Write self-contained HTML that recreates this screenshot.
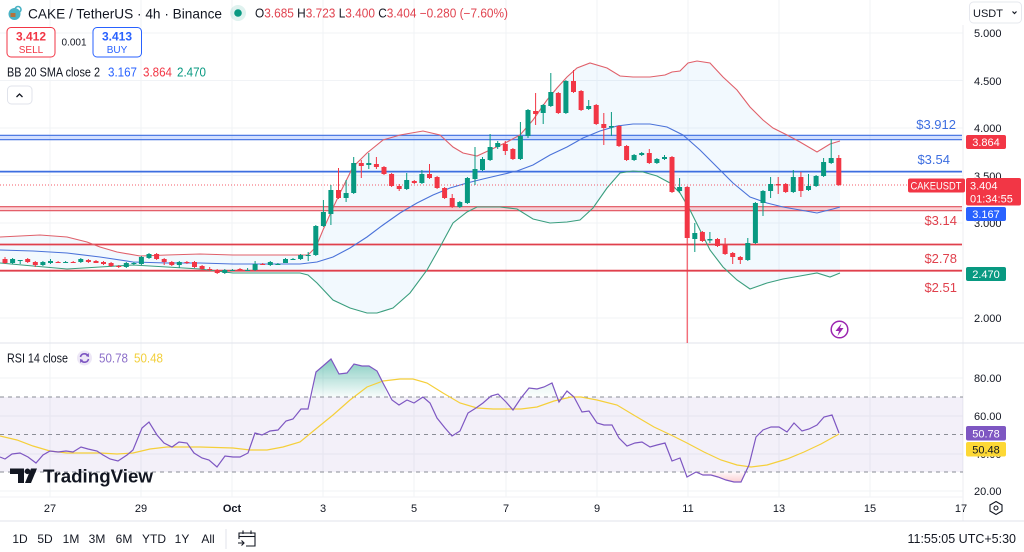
<!DOCTYPE html>
<html><head><meta charset="utf-8"><style>
html,body{margin:0;padding:0;background:#fff;}
svg{display:block;font-family:"Liberation Sans",sans-serif;}
</style></head><body>
<svg width="1024" height="552" viewBox="0 0 1024 552" xmlns="http://www.w3.org/2000/svg">
<rect width="1024" height="552" fill="#fff"/>
<!-- grid -->
<g stroke="#f1f3f6" stroke-width="1">
<line x1="50" y1="0" x2="50" y2="497"/><line x1="141" y1="0" x2="141" y2="497"/><line x1="232" y1="0" x2="232" y2="497"/><line x1="323" y1="0" x2="323" y2="497"/><line x1="414" y1="0" x2="414" y2="497"/><line x1="506" y1="0" x2="506" y2="497"/><line x1="597" y1="0" x2="597" y2="497"/><line x1="688" y1="0" x2="688" y2="497"/><line x1="779" y1="0" x2="779" y2="497"/><line x1="870" y1="0" x2="870" y2="497"/>
<line x1="0" y1="33" x2="963" y2="33"/><line x1="0" y1="80.5" x2="963" y2="80.5"/><line x1="0" y1="128" x2="963" y2="128"/><line x1="0" y1="175.5" x2="963" y2="175.5"/><line x1="0" y1="223" x2="963" y2="223"/><line x1="0" y1="270.5" x2="963" y2="270.5"/><line x1="0" y1="318" x2="963" y2="318"/>
<line x1="0" y1="378" x2="963" y2="378"/><line x1="0" y1="416" x2="963" y2="416"/><line x1="0" y1="454" x2="963" y2="454"/><line x1="0" y1="491" x2="963" y2="491"/>
</g>
<line x1="963" y1="25" x2="963" y2="521" stroke="#eceef2"/>
<line x1="0" y1="343" x2="1024" y2="343" stroke="#e0e3eb"/>
<line x1="0" y1="497" x2="963" y2="497" stroke="#f0f2f5"/>
<line x1="0" y1="521" x2="1024" y2="521" stroke="#e0e3eb"/>

<!-- BB fill -->
<polygon fill="#2196f3" fill-opacity="0.06" points="0,237 40,235 67,237 87,242 100,247 117,252 140,256 167,255 200,254 233,255 267,255 300,255 308,255 316,247 323,230 332,210 340,193 353,167 367,153 383,140 400,135 423,131 440,135 453,147 463,153 477,156 490,150 507,142 520,135 533,120 547,100 557,88 567,77 577,68 590,63 607,68 620,76 633,77 650,77 665,75 672,72 680,71 688,63 697,61 710,63 723,77 737,90 750,107 763,120 773,128 787,135 800,142 817,152 830,144 840,141 840,273 830,277 817,273 800,276 783,279 767,283 750,289 737,280 723,267 710,250 700,230 690,210 680,193 670,183 657,176 643,172 633,171 620,173 607,188 593,208 580,220 567,222 550,223 533,219 517,209 500,207 477,207 467,212 453,223 440,247 427,270 410,293 393,308 377,313 367,313 350,308 333,300 317,283 308,275 300,273 267,273 233,273 200,269 167,267 133,265 100,267 67,269 33,266 0,263"/>

<!-- level lines -->
<rect x="0" y="135.3" width="962" height="4.4" fill="#2962ff" fill-opacity="0.2"/>
<line x1="0" y1="135.3" x2="962" y2="135.3" stroke="#3d6ee0" stroke-width="1.2"/>
<line x1="0" y1="139.7" x2="962" y2="139.7" stroke="#3d6ee0" stroke-width="1.2"/>
<line x1="0" y1="171.6" x2="962" y2="171.6" stroke="#3d6ee0" stroke-width="1.8"/>
<rect x="0" y="206.7" width="962" height="4" fill="#f23645" fill-opacity="0.22"/>
<line x1="0" y1="206.7" x2="962" y2="206.7" stroke="#e0505b" stroke-width="1.2"/>
<line x1="0" y1="210.7" x2="962" y2="210.7" stroke="#e0505b" stroke-width="1.2"/>
<line x1="0" y1="244.5" x2="962" y2="244.5" stroke="#e0404c" stroke-width="1.8"/>
<line x1="0" y1="270.7" x2="962" y2="270.7" stroke="#e0404c" stroke-width="1.8"/>

<!-- BB lines -->
<polyline fill="none" stroke="#e0606a" stroke-width="1.1" points="0,237 40,235 67,237 87,242 100,247 117,252 140,256 167,255 200,254 233,255 267,255 300,255 308,255 316,247 323,230 332,210 340,193 353,167 367,153 383,140 400,135 423,131 440,135 453,147 463,153 477,156 490,150 507,142 520,135 533,120 547,100 557,88 567,77 577,68 590,63 607,68 620,76 633,77 650,77 665,75 672,72 680,71 688,63 697,61 710,63 723,77 737,90 750,107 763,120 773,128 787,135 800,142 817,152 830,144 840,141"/>
<polyline fill="none" stroke="#4a72d9" stroke-width="1.1" points="0,250 33,251 67,253 100,257 133,262 167,263 200,263 233,264 267,264 300,264 317,262 333,257 350,248 367,237 383,225 400,213 417,203 433,195 450,188 467,183 483,179 500,175 517,171 533,165 550,155 567,147 583,138 600,131 617,126 633,124 650,124 667,127 683,135 700,150 717,167 733,183 750,197 767,203 783,207 800,210 817,213 833,209 840,207"/>
<polyline fill="none" stroke="#3a9e7e" stroke-width="1.1" points="0,263 33,266 67,269 100,267 133,265 167,267 200,269 233,273 267,273 300,273 308,275 317,283 333,300 350,308 367,313 377,313 393,308 410,293 427,270 440,247 453,223 467,212 477,207 500,207 517,209 533,219 550,223 567,222 580,220 593,208 607,188 620,173 633,171 643,172 657,176 670,183 680,193 690,210 700,230 710,250 723,267 737,280 750,289 767,283 783,279 800,276 817,273 830,277 840,273"/>

<!-- dotted price line -->
<line x1="0" y1="185" x2="962" y2="185" stroke="#f23645" stroke-width="1" stroke-dasharray="1,2" opacity="0.8"/>

<!-- green candles -->
<g fill="#089981">
<rect x="12.1" y="258" width="1" height="6"/><rect x="10.1" y="259" width="5" height="4"/>
<rect x="19.7" y="260" width="1" height="4"/><rect x="17.7" y="260" width="5" height="1"/>
<rect x="42.4" y="261" width="1" height="5"/><rect x="40.4" y="262" width="5" height="3"/>
<rect x="50" y="259" width="1" height="5"/><rect x="48" y="261" width="5" height="2"/>
<rect x="65.1" y="261" width="1" height="2"/><rect x="63.1" y="262" width="5" height="1"/>
<rect x="80.3" y="258" width="1" height="5"/><rect x="78.3" y="259" width="5" height="3"/>
<rect x="125.8" y="262" width="1" height="6"/><rect x="123.8" y="263" width="5" height="4"/>
<rect x="133.4" y="262" width="1" height="3"/><rect x="131.4" y="263" width="5" height="1"/>
<rect x="140.9" y="256" width="1" height="9"/><rect x="138.9" y="257" width="5" height="7"/>
<rect x="148.5" y="253" width="1" height="6"/><rect x="146.5" y="254" width="5" height="4"/>
<rect x="178.8" y="261" width="1" height="7"/><rect x="176.8" y="262" width="5" height="3"/>
<rect x="224.3" y="269" width="1" height="5"/><rect x="222.3" y="270" width="5" height="3"/>
<rect x="231.9" y="269" width="1" height="2"/><rect x="229.9" y="270" width="5" height="1"/>
<rect x="247.1" y="268" width="1" height="3"/><rect x="245.1" y="270" width="5" height="1"/>
<rect x="254.6" y="261" width="1" height="10"/><rect x="252.6" y="264" width="5" height="6"/>
<rect x="269.8" y="261" width="1" height="5"/><rect x="267.8" y="262" width="5" height="3"/>
<rect x="277.4" y="263" width="1" height="2"/><rect x="275.4" y="264" width="5" height="1"/>
<rect x="285" y="258" width="1" height="5"/><rect x="283" y="259" width="5" height="4"/>
<rect x="292.5" y="258" width="1" height="2"/><rect x="290.5" y="259" width="5" height="1"/>
<rect x="300.1" y="254" width="1" height="6"/><rect x="298.1" y="255" width="5" height="4"/>
<rect x="307.7" y="252" width="1" height="9"/><rect x="305.7" y="255" width="5" height="1"/>
<rect x="315.3" y="225" width="1" height="31"/><rect x="313.3" y="226" width="5" height="29"/>
<rect x="322.9" y="200" width="1" height="27"/><rect x="320.9" y="212" width="5" height="14"/>
<rect x="330.4" y="185" width="1" height="40"/><rect x="328.4" y="190" width="5" height="24"/>
<rect x="345.6" y="180" width="1" height="22"/><rect x="343.6" y="193" width="5" height="5"/>
<rect x="353.2" y="157" width="1" height="37"/><rect x="351.2" y="163" width="5" height="30"/>
<rect x="368.3" y="153" width="1" height="16"/><rect x="366.3" y="163" width="5" height="2"/>
<rect x="406.2" y="173" width="1" height="17"/><rect x="404.2" y="180" width="5" height="9"/>
<rect x="421.4" y="170" width="1" height="14"/><rect x="419.4" y="174" width="5" height="9"/>
<rect x="459.3" y="201" width="1" height="7"/><rect x="457.3" y="202" width="5" height="5"/>
<rect x="466.9" y="177" width="1" height="27"/><rect x="464.9" y="178" width="5" height="25"/>
<rect x="474.5" y="147" width="1" height="38"/><rect x="472.5" y="169" width="5" height="10"/>
<rect x="482" y="157" width="1" height="14"/><rect x="480" y="159" width="5" height="11"/>
<rect x="489.6" y="134" width="1" height="27"/><rect x="487.6" y="147" width="5" height="13"/>
<rect x="497.2" y="141" width="1" height="8"/><rect x="495.2" y="143" width="5" height="4"/>
<rect x="519.9" y="122" width="1" height="38"/><rect x="517.9" y="136" width="5" height="23"/>
<rect x="527.5" y="109" width="1" height="29"/><rect x="525.5" y="110" width="5" height="26"/>
<rect x="542.7" y="104" width="1" height="20"/><rect x="540.7" y="105" width="5" height="8"/>
<rect x="550.3" y="73" width="1" height="34"/><rect x="548.3" y="92" width="5" height="14"/>
<rect x="565.4" y="80" width="1" height="34"/><rect x="563.4" y="81" width="5" height="32"/>
<rect x="588.2" y="100" width="1" height="10"/><rect x="586.2" y="106" width="5" height="3"/>
<rect x="610.9" y="112" width="1" height="24"/><rect x="608.9" y="126" width="5" height="1.5"/>
<rect x="633.6" y="154" width="1" height="7"/><rect x="631.6" y="155" width="5" height="5"/>
<rect x="641.2" y="152" width="1" height="4"/><rect x="639.2" y="153" width="5" height="2"/>
<rect x="656.4" y="158" width="1" height="6"/><rect x="654.4" y="159" width="5" height="4"/>
<rect x="664" y="155" width="1" height="5"/><rect x="662" y="157" width="5" height="2"/>
<rect x="679.1" y="178" width="1" height="15"/><rect x="677.1" y="187" width="5" height="4"/>
<rect x="694.3" y="223" width="1" height="29"/><rect x="692.3" y="233" width="5" height="6"/>
<rect x="709.4" y="232" width="1" height="11"/><rect x="707.4" y="239" width="5" height="1.5"/>
<rect x="747.3" y="238" width="1" height="23"/><rect x="745.3" y="243" width="5" height="17"/>
<rect x="754.9" y="202" width="1" height="42"/><rect x="752.9" y="203" width="5" height="40"/>
<rect x="762.5" y="190" width="1" height="26"/><rect x="760.5" y="191" width="5" height="12"/>
<rect x="770.1" y="177" width="1" height="21"/><rect x="768.1" y="184" width="5" height="7"/>
<rect x="792.8" y="170" width="1" height="23"/><rect x="790.8" y="177" width="5" height="15"/>
<rect x="808" y="174" width="1" height="17"/><rect x="806" y="186" width="5" height="4"/>
<rect x="815.6" y="175" width="1" height="12"/><rect x="813.6" y="176" width="5" height="10"/>
<rect x="823.1" y="158" width="1" height="19"/><rect x="821.1" y="162" width="5" height="14"/>
<rect x="830.7" y="139" width="1" height="25"/><rect x="828.7" y="158" width="5" height="5"/>
</g>
<!-- red candles -->
<g fill="#f23645">
<rect x="4.5" y="257" width="1" height="7"/><rect x="2.5" y="259" width="5" height="4"/>
<rect x="27.2" y="258" width="1" height="5"/><rect x="25.2" y="259" width="5" height="3"/>
<rect x="34.8" y="261" width="1" height="6"/><rect x="32.8" y="262" width="5" height="3"/>
<rect x="57.6" y="261" width="1" height="2"/><rect x="55.6" y="262" width="5" height="1"/>
<rect x="72.7" y="261" width="1" height="2"/><rect x="70.7" y="262" width="5" height="1"/>
<rect x="87.9" y="259" width="1" height="4"/><rect x="85.9" y="260" width="5" height="2"/>
<rect x="95.5" y="260" width="1" height="3"/><rect x="93.5" y="261" width="5" height="2"/>
<rect x="103" y="261" width="1" height="4"/><rect x="101" y="262" width="5" height="2"/>
<rect x="110.6" y="262" width="1" height="5"/><rect x="108.6" y="263" width="5" height="3"/>
<rect x="118.2" y="265" width="1" height="3"/><rect x="116.2" y="266" width="5" height="1"/>
<rect x="156.1" y="253" width="1" height="7"/><rect x="154.1" y="254" width="5" height="5"/>
<rect x="163.7" y="258" width="1" height="7"/><rect x="161.7" y="259" width="5" height="3"/>
<rect x="171.3" y="261" width="1" height="5"/><rect x="169.3" y="262" width="5" height="3"/>
<rect x="186.4" y="261" width="1" height="3"/><rect x="184.4" y="262" width="5" height="1"/>
<rect x="194" y="261" width="1" height="7"/><rect x="192" y="262" width="5" height="5"/>
<rect x="201.6" y="265" width="1" height="5"/><rect x="199.6" y="266" width="5" height="3"/>
<rect x="209.2" y="267" width="1" height="4"/><rect x="207.2" y="269" width="5" height="1"/>
<rect x="216.7" y="269" width="1" height="5"/><rect x="214.7" y="270" width="5" height="3"/>
<rect x="239.5" y="268" width="1" height="3"/><rect x="237.5" y="269" width="5" height="1"/>
<rect x="262.2" y="263" width="1" height="2"/><rect x="260.2" y="264" width="5" height="1"/>
<rect x="338" y="168" width="1" height="31"/><rect x="336" y="190" width="5" height="8"/>
<rect x="360.8" y="160" width="1" height="18"/><rect x="358.8" y="163" width="5" height="3"/>
<rect x="375.9" y="157" width="1" height="12"/><rect x="373.9" y="164" width="5" height="3"/>
<rect x="383.5" y="166" width="1" height="9"/><rect x="381.5" y="167" width="5" height="7"/>
<rect x="391.1" y="173" width="1" height="14"/><rect x="389.1" y="174" width="5" height="12"/>
<rect x="398.7" y="184" width="1" height="7"/><rect x="396.7" y="186" width="5" height="3"/>
<rect x="413.8" y="180" width="1" height="4"/><rect x="411.8" y="181" width="5" height="2"/>
<rect x="429" y="164" width="1" height="15"/><rect x="427" y="174" width="5" height="4"/>
<rect x="436.6" y="176" width="1" height="13"/><rect x="434.6" y="177" width="5" height="11"/>
<rect x="444.1" y="187" width="1" height="12"/><rect x="442.1" y="188" width="5" height="10"/>
<rect x="451.7" y="194" width="1" height="14"/><rect x="449.7" y="198" width="5" height="9"/>
<rect x="504.8" y="141" width="1" height="14"/><rect x="502.8" y="144" width="5" height="7"/>
<rect x="512.4" y="148" width="1" height="12"/><rect x="510.4" y="149" width="5" height="10"/>
<rect x="535.1" y="93" width="1" height="32"/><rect x="533.1" y="111" width="5" height="3"/>
<rect x="557.8" y="92" width="1" height="22"/><rect x="555.8" y="93" width="5" height="20"/>
<rect x="573" y="70" width="1" height="23"/><rect x="571" y="81" width="5" height="11"/>
<rect x="580.6" y="90" width="1" height="21"/><rect x="578.6" y="91" width="5" height="19"/>
<rect x="595.7" y="104" width="1" height="21"/><rect x="593.7" y="105" width="5" height="19"/>
<rect x="603.3" y="113" width="1" height="32"/><rect x="601.3" y="124" width="5" height="4"/>
<rect x="618.5" y="125" width="1" height="22"/><rect x="616.5" y="126" width="5" height="20"/>
<rect x="626.1" y="145" width="1" height="16"/><rect x="624.1" y="146" width="5" height="14"/>
<rect x="648.8" y="149" width="1" height="15"/><rect x="646.8" y="153" width="5" height="10"/>
<rect x="671.5" y="156" width="1" height="37"/><rect x="669.5" y="157" width="5" height="35"/>
<rect x="686.7" y="186" width="1" height="157"/><rect x="684.7" y="187" width="5" height="51"/>
<rect x="701.9" y="231" width="1" height="11"/><rect x="699.9" y="232" width="5" height="9"/>
<rect x="717" y="238" width="1" height="9"/><rect x="715" y="239" width="5" height="7"/>
<rect x="724.6" y="238" width="1" height="17"/><rect x="722.6" y="245" width="5" height="9"/>
<rect x="732.2" y="252" width="1" height="12"/><rect x="730.2" y="253" width="5" height="4"/>
<rect x="739.8" y="256" width="1" height="8"/><rect x="737.8" y="257" width="5" height="3"/>
<rect x="777.7" y="177" width="1" height="17"/><rect x="775.7" y="184" width="5" height="1.5"/>
<rect x="785.2" y="183" width="1" height="10"/><rect x="783.2" y="184" width="5" height="8"/>
<rect x="800.4" y="172" width="1" height="25"/><rect x="798.4" y="177" width="5" height="14"/>
<rect x="838.3" y="155" width="1" height="31"/><rect x="836.3" y="158" width="5" height="27"/>
</g>

<!-- level labels -->
<g font-size="13">
<text x="956" y="129" text-anchor="end" fill="#3d6ee0">$3.912</text>
<text x="950" y="164" text-anchor="end" fill="#3d6ee0">$3.54</text>
<text x="957" y="225" text-anchor="end" fill="#e0404c">$3.14</text>
<text x="957" y="263" text-anchor="end" fill="#e0404c">$2.78</text>
<text x="957" y="292" text-anchor="end" fill="#e0404c">$2.51</text>
</g>

<!-- lightning icon -->
<circle cx="839.5" cy="329.5" r="8.3" fill="#fff" stroke="#9c27b0" stroke-width="1.5"/>
<polygon points="841.5,323.5 835.5,331 839,331 837.5,336 843.5,328 840,328" fill="#9c27b0"/>

<!-- RSI pane -->
<rect x="0" y="397" width="963" height="75" fill="#7e57c2" fill-opacity="0.09"/>
<defs>
<linearGradient id="gg" x1="0" y1="355" x2="0" y2="397" gradientUnits="userSpaceOnUse">
<stop offset="0" stop-color="#089981" stop-opacity="0.55"/><stop offset="1" stop-color="#089981" stop-opacity="0.03"/>
</linearGradient>
<linearGradient id="rg" x1="0" y1="472" x2="0" y2="485" gradientUnits="userSpaceOnUse">
<stop offset="0" stop-color="#f23645" stop-opacity="0.03"/><stop offset="1" stop-color="#f23645" stop-opacity="0.3"/>
</linearGradient>
</defs>
<polygon fill="url(#gg)" points="312,397 316,372 323,366 331,359 339,374 347,373 354,364 362,366 369,366 377,371 383,383 388,397"/>
<polygon fill="url(#gg)" opacity="0.5" points="524,397 529,388 537,389 544,387 552,383 557,397"/>
<polygon fill="url(#rg)" points="694,472 696,472 703,475 711,475 718,477 726,480 734,482 741,482 745,472"/>
<g stroke="#8a8d96" stroke-width="1" stroke-dasharray="4,4">
<line x1="0" y1="397" x2="963" y2="397"/><line x1="0" y1="434.5" x2="963" y2="434.5"/><line x1="0" y1="472" x2="963" y2="472"/>
</g>
<polyline fill="none" stroke="#f5cf3a" stroke-width="1.2" points="0,436 17,440 33,446 50,451 67,453 100,453 117,454 133,453 150,449 167,447 200,447 233,448 250,450 267,450 283,447 300,442 317,428 333,415 350,400 367,387 383,381 400,379 413,379 427,383 443,393 460,403 477,408 493,409 510,409 521,409 537,407 554,401 571,397 581,397 597,400 617,405 637,417 654,427 671,435 687,443 704,452 721,460 737,465 751,467 767,465 787,459 804,452 821,444 839,434"/>
<polyline fill="none" stroke="#7e57c2" stroke-width="1.2" points="0,457 5,459 12,454 20,453 28,457 36,463 43,455 50,451 58,452 66,451 73,452 81,447 88,449 97,451 103,455 110,459 118,461 127,455 133,450 142,428 149,422 157,435 164,443 172,447 179,442 187,443 194,453 202,458 209,460 217,467 225,456 233,457 240,457 248,453 255,433 262,435 270,431 278,430 286,421 293,419 301,409 308,409 316,372 323,366 331,359 339,374 347,373 354,364 362,366 369,366 377,371 383,383 392,400 399,405 407,400 414,403 423,397 430,403 437,418 445,428 452,436 460,431 468,413 476,408 483,403 491,396 498,394 506,402 513,410 521,398 529,388 537,389 544,387 552,383 559,402 567,391 574,397 582,412 589,411 597,423 604,425 612,425 619,438 627,446 635,443 642,442 650,447 657,445 665,443 672,461 680,458 687,477 696,472 703,475 711,475 718,477 726,480 734,482 741,482 749,465 756,437 763,430 771,427 779,427 787,432 794,423 802,431 809,429 817,425 824,417 832,415 839,433"/>

<!-- TradingView logo -->
<g fill="#131722">
<path d="M10 468.5 H24 V483 H18 V474 H10 Z"/>
<circle cx="27.5" cy="471.3" r="2.8"/>
<polygon points="31,468.5 37,468.5 31,483 25,483"/>
<text x="43" y="482.5" font-size="18" font-weight="bold" textLength="110" lengthAdjust="spacingAndGlyphs">TradingView</text>
</g>

<!-- price axis -->
<g font-size="11" fill="#131722">
<text x="974" y="37">5.000</text>
<text x="974" y="85">4.500</text>
<text x="974" y="132">4.000</text>
<text x="974" y="180">3.500</text>
<text x="974" y="227">3.000</text>
<text x="974" y="322">2.000</text>
<text x="974" y="382">80.00</text>
<text x="974" y="420">60.00</text>
<text x="974" y="458">40.00</text>
<text x="974" y="495">20.00</text>
</g>
<!-- badges -->
<rect x="966" y="135" width="40" height="14" rx="2" fill="#f23645"/>
<text x="986" y="146" font-size="11" fill="#fff" text-anchor="middle">3.864</text>
<rect x="908" y="178.5" width="57" height="14" rx="2" fill="#f23645"/>
<text x="910.5" y="189.5" font-size="11" fill="#fff" textLength="51" lengthAdjust="spacingAndGlyphs">CAKEUSDT</text>
<rect x="966" y="178" width="55" height="27.5" rx="2" fill="#f23645"/>
<text x="970" y="189.5" font-size="11" fill="#fff">3.404</text>
<text x="970" y="202.5" font-size="11" fill="#fff">01:34:55</text>
<rect x="966" y="207" width="40" height="14" rx="2" fill="#2962ff"/>
<text x="986" y="218" font-size="11" fill="#fff" text-anchor="middle">3.167</text>
<rect x="966" y="267" width="40" height="14" rx="2" fill="#089981"/>
<text x="986" y="278" font-size="11" fill="#fff" text-anchor="middle">2.470</text>
<rect x="966" y="426" width="40" height="14.5" rx="2" fill="#7e57c2"/>
<text x="986" y="437.5" font-size="11" fill="#fff" text-anchor="middle">50.78</text>
<rect x="966" y="442" width="40" height="14.5" rx="2" fill="#fdd835"/>
<text x="986" y="453.5" font-size="11" fill="#131722" text-anchor="middle">50.48</text>

<!-- USDT dropdown -->
<rect x="969.5" y="2" width="52" height="21" rx="4" fill="#fff" stroke="#e6e8ee"/>
<text x="973" y="17" font-size="11" fill="#131722">USDT</text>
<polyline points="1012.5,11.5 1014.5,13.5 1016.5,11.5" fill="none" stroke="#131722" stroke-width="1.2"/>

<!-- time axis -->
<g font-size="11" fill="#131722" text-anchor="middle">
<text x="50" y="512">27</text><text x="141" y="512">29</text><text x="232" y="512" font-weight="bold">Oct</text><text x="323" y="512">3</text><text x="414" y="512">5</text><text x="506" y="512">7</text><text x="597" y="512">9</text><text x="688" y="512">11</text><text x="779" y="512">13</text><text x="870" y="512">15</text><text x="961" y="512">17</text>
</g>
<g fill="none" stroke="#131722" stroke-width="1.1">
<polygon points="996,501.5 1002,505 1002,511 996,514.5 990,511 990,505"/>
<circle cx="996" cy="508" r="2"/>
</g>

<!-- bottom toolbar -->
<g font-size="12" fill="#131722" text-anchor="middle">
<text x="20" y="543">1D</text><text x="45" y="543">5D</text><text x="71" y="543">1M</text><text x="97" y="543">3M</text><text x="124" y="543">6M</text><text x="154" y="543">YTD</text><text x="182" y="543">1Y</text><text x="208" y="543">All</text>
</g>
<line x1="226" y1="529" x2="226" y2="549" stroke="#e0e3eb"/>
<g fill="none" stroke="#131722" stroke-width="1.1">
<path d="M239 539 V533 H255 V546 H246"/>
<line x1="239" y1="536.5" x2="255" y2="536.5"/>
<line x1="243" y1="530.5" x2="243" y2="534"/><line x1="251" y1="530.5" x2="251" y2="534"/>
<path d="M238 543 H244 M241.5 540.5 L244 543 L241.5 545.5"/>
</g>
<text x="1016" y="543" font-size="12.5" fill="#131722" text-anchor="end">11:55:05 UTC+5:30</text>

<!-- header -->
<circle cx="14.5" cy="14" r="6" fill="#49b2c4"/>
<circle cx="18" cy="9.5" r="3" fill="none" stroke="#49b2c4" stroke-width="1.6"/>
<rect x="10.5" y="13" width="5" height="4" fill="#b5713a"/>
<text x="28" y="18.5" font-size="14" fill="#131722" textLength="194" lengthAdjust="spacingAndGlyphs">CAKE / TetherUS · 4h · Binance</text>
<circle cx="238" cy="13" r="8" fill="#089981" fill-opacity="0.13"/>
<circle cx="238" cy="13" r="3.8" fill="#089981"/>
<text x="255" y="17.5" font-size="12.5" textLength="253" lengthAdjust="spacingAndGlyphs"><tspan fill="#131722">O</tspan><tspan fill="#e0434f">3.685 </tspan><tspan fill="#131722">H</tspan><tspan fill="#e0434f">3.723 </tspan><tspan fill="#131722">L</tspan><tspan fill="#e0434f">3.400 </tspan><tspan fill="#131722">C</tspan><tspan fill="#e0434f">3.404 −0.280 (−7.60%)</tspan></text>

<rect x="7" y="27.5" width="48" height="29.5" rx="4" fill="#fff" stroke="#f23645"/>
<text x="31" y="40.5" font-size="12" fill="#f23645" text-anchor="middle" font-weight="bold">3.412</text>
<text x="31" y="53" font-size="10" fill="#f23645" text-anchor="middle">SELL</text>
<text x="74" y="45.5" font-size="10" fill="#131722" text-anchor="middle">0.001</text>
<rect x="93" y="27.5" width="48.5" height="29.5" rx="4" fill="#fff" stroke="#2962ff"/>
<text x="117" y="40.5" font-size="12" fill="#2962ff" text-anchor="middle" font-weight="bold">3.413</text>
<text x="117" y="53" font-size="10" fill="#2962ff" text-anchor="middle">BUY</text>

<text x="7" y="76.5" font-size="12.5" fill="#131722" textLength="93" lengthAdjust="spacingAndGlyphs">BB 20 SMA close 2</text>
<text x="108" y="76.5" font-size="12.5" fill="#2962ff" textLength="29" lengthAdjust="spacingAndGlyphs">3.167</text>
<text x="143" y="76.5" font-size="12.5" fill="#f23645" textLength="29" lengthAdjust="spacingAndGlyphs">3.864</text>
<text x="177" y="76.5" font-size="12.5" fill="#089981" textLength="29" lengthAdjust="spacingAndGlyphs">2.470</text>

<rect x="7.5" y="86" width="24.5" height="18" rx="4" fill="#fff" stroke="#e0e3eb"/>
<polyline points="16.5,97 19.5,94 22.5,97" fill="none" stroke="#131722" stroke-width="1.3"/>

<text x="7" y="362.5" font-size="12.5" fill="#131722" textLength="61" lengthAdjust="spacingAndGlyphs">RSI 14 close</text>
<circle cx="84.5" cy="358" r="7.5" fill="#ede7f6"/>
<path d="M80.5 357 A4 4 0 0 1 88 356 M88.5 359 A4 4 0 0 1 81 360" fill="none" stroke="#7e57c2" stroke-width="1.6"/>
<polygon points="88.8,353 89,357 85.8,356" fill="#7e57c2"/>
<polygon points="80.2,363 80,359 83.2,360" fill="#7e57c2"/>
<text x="99" y="362.5" font-size="12.5" fill="#8c6fc9" textLength="29" lengthAdjust="spacingAndGlyphs">50.78</text>
<text x="134" y="362.5" font-size="12.5" fill="#f2cf3a" textLength="29" lengthAdjust="spacingAndGlyphs">50.48</text>
</svg>
</body></html>
